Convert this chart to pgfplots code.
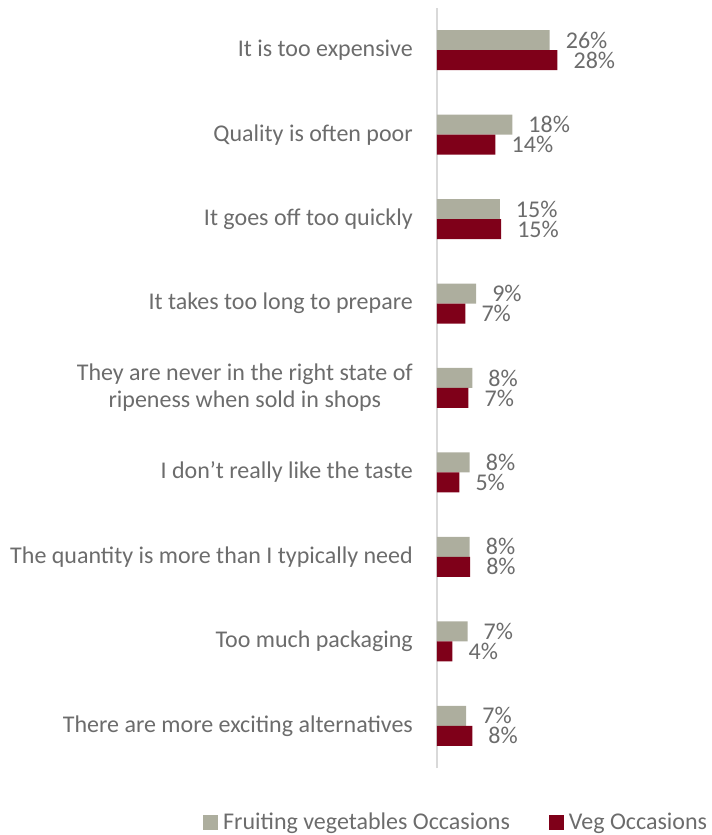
\documentclass[border=0pt]{standalone}
\usepackage{pgfplots}
\pgfplotsset{compat=1.18}
\usepackage{fontspec}
\setmainfont{Carlito}
\definecolor{bargrey}{HTML}{ADAE9E}
\definecolor{barred}{HTML}{7F0019}
\definecolor{textgrey}{HTML}{6C6C6C}
\definecolor{axisgrey}{HTML}{D9D9D9}
\begin{document}
\begin{tikzpicture}
\begin{axis}[
  name=ax,
  scale only axis,
  width=275bp, height=760bp,
  xmin=0, xmax=63.95,
  ymin=0.5, ymax=9.5,
  xbar, bar width=20bp,
  axis x line=none,
  axis y line*=left,
  y axis line style={draw=axisgrey, line width=1.5bp, -},
  ytick={1,...,9},
  major tick length=0pt,
  /pgf/number format/assume math mode=true,
  yticklabels={{There are more exciting alternatives},{Too much packaging},{The quantity is more than I typically need},{I don’t really like the taste},{They are never in the right state of\\ripeness when sold in shops},{It takes too long to prepare},{It goes off too quickly},{Quality is often poor},{It is too expensive}},
  yticklabel style={font=\fontsize{24bp}{27bp}\selectfont, text=textgrey, align=center, inner sep=0pt, xshift=-24bp},
  point meta=x,
  nodes near coords={\pgfmathprintnumber[fixed,precision=0,assume math mode=true]{\pgfplotspointmeta}\%},
  nodes near coords style={anchor=west, inner sep=0pt, xshift=16bp, font=\fontsize{24bp}{27bp}\selectfont, text=textgrey},
  clip=false,
  legend columns=2,
  legend style={draw=none, fill=none, at={(axis description cs:-0.851,-0.0711)}, anchor=west, inner sep=0pt,
    font=\fontsize{24bp}{27bp}\selectfont, text=textgrey,
    /tikz/every odd column/.append style={column sep=5bp},
    /tikz/every even column/.append style={column sep=39bp},
    nodes={inner sep=0pt}},
  legend image code/.code={\fill[#1] (0bp,-7.5bp) rectangle (15bp,7.5bp);},
]
\addplot[fill=bargrey, draw=none, bar shift=10bp] coordinates {
  (26.2,9) (17.5,8) (14.6,7) (9.1,6) (8.2,5) (7.6,4) (7.6,3) (7.1,2) (6.8,1)};
\addplot[fill=barred, draw=none, bar shift=-10bp] coordinates {
  (28,9) (13.6,8) (14.9,7) (6.6,6) (7.3,5) (5.2,4) (7.7,3) (3.6,2) (8.2,1)};
\legend{Fruiting vegetables Occasions, Veg Occasions}
\end{axis}
\pgfresetboundingbox
\useasboundingbox ([xshift=-437bp,yshift=-67bp]ax.south west) rectangle ([yshift=8bp]ax.north east);
\end{tikzpicture}
\end{document}
